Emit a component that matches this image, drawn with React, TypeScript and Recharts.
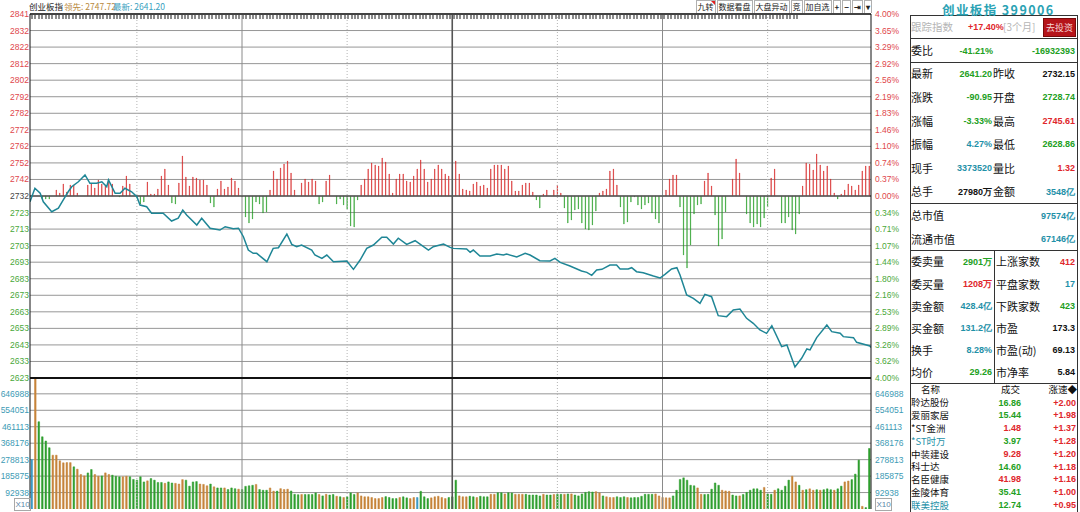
import type { CSSProperties, ReactNode } from 'react'
import {
  Bar,
  CartesianGrid,
  Cell,
  ComposedChart,
  Line,
  ReferenceLine,
  XAxis,
  YAxis,
} from 'recharts'

// ---- values ----
const PREV_CLOSE = 2732.15
const PCT_RANGE = 0.04
const STEPS = 11
const SESSION = 240

const PRICE_LABELS = [
  '2841', '2832', '2822', '2812', '2802', '2792', '2782', '2772', '2762', '2752', '2742',
  '2732',
  '2723', '2713', '2703', '2693', '2683', '2673', '2663', '2653', '2643', '2633', '2623',
]
const PCT_LABELS = [
  '4.00%', '3.65%', '3.29%', '2.92%', '2.56%', '2.19%', '1.83%', '1.46%', '1.10%', '0.74%', '0.37%',
  '0.00%',
  '0.34%', '0.71%', '1.07%', '1.44%', '1.80%', '2.16%', '2.53%', '2.89%', '3.26%', '3.62%', '4.00%',
]
const VOL_LABELS = ['646988', '554051', '461113', '368176', '278813', '185875', '92938']
const VOL_STEP = 92938
const VOL_MAX = 740000

// half-hour separators (minutes from open)
const GRID_MINUTES = [30.5, 60.5, 90.5, 120.5, 150.5, 180.5, 210.5]

// index line: [minute, price]
const PRICE_TRACE: [number, number][] = [
  [0, 2728.74], [1.4, 2736.8], [2.9, 2733.8], [3.8, 2728.7], [6.2, 2722.7], [8.1, 2724.8],
  [9.5, 2729.8], [10.9, 2734.7], [11.9, 2737.7], [13.8, 2740.7], [15.7, 2744.8], [17.1, 2739.8],
  [19.0, 2739.8], [20.5, 2740.7], [21.9, 2737.7], [22.4, 2741.8], [24.3, 2733.8], [25.7, 2733.8],
  [27.1, 2736.8], [29.0, 2734.7], [30.5, 2731.7], [31.4, 2726.7], [33.3, 2725.7], [34.7, 2721.8],
  [38.0, 2721.8], [40.4, 2717.1], [42.3, 2718.8], [43.6, 2723.7], [44.7, 2720.7], [47.6, 2714.7],
  [49.0, 2718.8], [51.4, 2712.8], [54.2, 2711.7], [55.7, 2713.7], [58.0, 2712.5], [59.5, 2712.8],
  [60.9, 2707.7], [62.3, 2699.7], [63.7, 2697.7], [64.7, 2697.7], [67.6, 2692.7], [69.4, 2700.7],
  [70.9, 2701.1], [73.3, 2709.3], [74.7, 2703.1], [76.1, 2701.7], [77.5, 2702.7], [80.4, 2699.7],
  [81.3, 2696.7], [83.3, 2694.7], [84.7, 2696.7], [86.6, 2692.7], [90.4, 2693.1], [92.3, 2688.1],
  [94.2, 2693.7], [96.1, 2700.7], [98.0, 2702.7], [100.4, 2707.4], [101.8, 2707.4], [103.7, 2703.3],
  [105.1, 2706.8], [107.5, 2703.1], [109.9, 2705.3], [113.7, 2699.7], [115.1, 2701.7], [118.0, 2703.3],
  [119.9, 2701.3], [120.8, 2700.7], [124.6, 2700.3], [125.6, 2698.3], [126.5, 2699.7], [128.4, 2696.1],
  [131.3, 2696.1], [133.2, 2697.3], [135.1, 2696.7], [136.0, 2697.3], [138.9, 2695.5], [141.3, 2697.7],
  [142.7, 2696.7], [145.5, 2693.3], [148.4, 2693.1], [149.8, 2694.7], [151.3, 2692.3], [154.1, 2690.1],
  [157.4, 2687.1], [158.9, 2686.3], [160.3, 2684.5], [161.7, 2687.7], [163.2, 2688.1], [165.5, 2690.7],
  [167.4, 2690.7], [168.4, 2688.3], [170.7, 2688.3], [171.7, 2689.1], [173.1, 2686.7], [175.0, 2686.1],
  [177.9, 2684.1], [179.8, 2682.9], [181.2, 2685.1], [183.1, 2688.3], [184.6, 2689.1], [185.5, 2684.7],
  [187.4, 2672.7], [189.3, 2670.7], [191.2, 2667.7], [192.6, 2673.1], [194.5, 2671.7], [196.4, 2660.3],
  [198.8, 2659.7], [200.7, 2663.7], [202.6, 2664.3], [204.5, 2658.7], [206.4, 2655.7], [208.3, 2651.7],
  [210.2, 2649.7], [211.7, 2654.3], [214.5, 2641.7], [216.0, 2642.7], [218.3, 2629.5], [220.2, 2634.7],
  [221.7, 2640.3], [222.6, 2639.7], [224.5, 2647.1], [227.4, 2654.7], [228.8, 2650.7], [231.2, 2649.7],
  [232.1, 2647.7], [235.0, 2647.1], [235.9, 2644.3], [239.7, 2642.1], [240, 2641.2],
]

// red/green strength bars around the previous close, one per minute
const STRENGTH = [
  0, 0, 0, -3, -3, -3, 0, 6, 3, 12,
  4, 11, 11, 3, 0, 0, 11, 12, 8, 16,
  12, 10, 14, 12, 0, -1, 10, 20, 12, 0,
  -2, -8, -6, 14, 2, 2, 7, 20, 27, 11,
  -7, -8, 13, 40, 19, 10, 19, 18, 16, 16,
  11, -7, -11, 7, 15, 7, 9, 18, 15, 8,
  -1, -21, -27, -23, -6, -8, -17, -16, 6, 25,
  17, 28, 32, 35, 23, 6, 0, 13, 17, 14,
  17, 15, -8, -6, 15, 21, 0, -8, -3, -9,
  -13, -30, -31, -4, 11, 17, 27, 33, 31, 30,
  38, 34, 22, 3, 17, 22, 22, 15, 14, 20,
  27, 36, 27, 14, 17, 27, 31, 27, 22, 20,
  0, 35, 22, 7, 6, 5, 12, 14, 10, 11,
  8, 27, 31, 31, 31, 27, 30, 15, 5, 5,
  11, 13, 13, 4, -4, -12, 2, 6, 0, 6,
  11, 3, -12, -27, -24, -14, -13, -27, -33, -34,
  -29, -15, 3, 5, 7, 25, 27, 11, -11, -28,
  -26, -6, -1, -9, -13, -9, -7, -17, -23, -27,
  -1, 6, 17, 21, 21, -11, -59, -72, -49, -18,
  -9, -8, 15, 23, 10, -19, -50, -43, -16, 0,
  17, 37, 23, 0, -18, -27, -31, -28, -31, -22,
  -11, 18, 27, 0, -27, -27, -21, -34, -38, -18,
  10, 33, 32, 26, 42, 31, 25, 30, 17, 3,
  -3, 2, 6, 12, 10, 6, 11, 25, 30, 30,
]

// volume per minute
const VOLUME = [
  280000, 740000, 493000, 408000, 384000, 346000, 304000, 304000, 272000, 261000,
  262000, 262000, 238000, 225000, 195000, 187000, 204000, 223000, 195000, 185000,
  187000, 204000, 195000, 191000, 185000, 182000, 182000, 185000, 182000, 167000,
  163000, 182000, 153000, 159000, 172000, 163000, 150000, 150000, 145000, 153000,
  147000, 145000, 141000, 166000, 163000, 129000, 153000, 155000, 141000, 139000,
  131000, 141000, 125000, 119000, 119000, 119000, 110000, 119000, 115000, 112000,
  110000, 128000, 131000, 134000, 139000, 110000, 106000, 106000, 119000, 101000,
  101000, 115000, 110000, 112000, 102000, 83000, 81000,
  82000, 82000, 82000, 82000, 91000, 82000, 74000, 83000, 79000, 82000,
  72000, 69000, 65000, 69000, 91000, 82000, 91000, 74000, 69000, 69000,
  65000, 59000, 59000, 65000, 70000, 65000, 59000, 59000, 65000, 69000,
  63000, 59000, 65000, 65000, 100000, 69000, 59000, 63000, 69000, 72000,
  65000, 59000, 65000, 69000, 163000, 74000, 69000, 69000, 72000, 69000,
  65000, 72000, 69000, 69000, 83000, 83000, 92000, 92000, 85000, 92000,
  91000, 83000, 83000, 83000, 83000, 79000, 79000, 79000, 74000, 83000,
  79000, 79000, 82000, 83000, 83000, 83000, 85000, 85000, 79000, 74000,
  85000, 94000, 98000, 96000, 98000, 91000,
  74000, 69000, 65000, 65000, 69000, 65000, 69000, 65000, 63000, 65000,
  65000, 72000, 83000, 83000, 83000, 85000, 74000, 65000, 63000, 63000,
  74000, 106000, 167000, 176000, 163000, 134000, 131000, 119000, 83000, 82000,
  83000, 112000, 147000, 134000, 106000, 102000, 100000, 79000, 74000, 74000,
  82000, 94000, 106000, 114000, 114000, 106000, 122000, 85000, 83000, 106000,
  114000, 106000, 129000, 163000, 185000, 153000, 134000, 106000, 109000, 114000,
  106000, 109000, 106000, 109000, 114000, 109000, 106000, 114000, 129000, 153000,
  158000, 166000, 197000, 276000, 15000, 8000, 342000,
]
// g = green, o = orange, b = blue volume bar
const VOLUME_SIDE = [
  'boggggoooo', 'oogoooggoo', 'googggoogg', 'gggoggggog', 'goooggggoo', 'ogoggogggo',
  'ggggogggoo', 'goooggg', 'oggggogogg', 'ogogggoooo', 'ooooggggog', 'goobgggooo',
  'oogggooogg', 'ogggooggog', 'gooogggggo', 'ggoggogogg', 'ggggoo', 'gooogggogg',
  'gggggooooo', 'gggggggoog', 'ggggoooggo', 'ggggggoggo', 'ggggoogogo', 'ogogggoggo', 'ogggogg',
].join('')

const HEADER_NAME = '创业板指'
const HEADER_LEAD = '领先: 2747.72'
const HEADER_LAST = '最新: 2641.20'
const TOOLBAR = ['九转', '数据看盘', '大盘异动', '竞', '加自选', '+', '−', '⇥', '▾']

const TITLE = '创业板指 399006'
const QUOTE_L = ['最新', '涨跌', '涨幅', '振幅', '现手', '总手']
const QUOTE_LV = ['2641.20', '-90.95', '-3.33%', '4.27%', '3373520', '27980万']
const QUOTE_LT = ['d', 'd', 'd', 'i', 'i', 'n']
const QUOTE_R = ['昨收', '开盘', '最高', '最低', '量比', '金额']
const QUOTE_RV = ['2732.15', '2728.74', '2745.61', '2628.86', '1.32', '3548亿']
const QUOTE_RT = ['n', 'd', 'u', 'd', 'u', 'i']
const CAP_L = ['总市值', '流通市值']
const CAP_V = ['97574亿', '67146亿']
const BOOK_L = ['委卖量', '委买量', '卖金额', '买金额', '换手', '均价']
const BOOK_LV = ['2901万', '1208万', '428.4亿', '131.2亿', '8.28%', '29.26']
const BOOK_LT = ['d', 'u', 'i', 'i', 'i', 'd']
const BOOK_R = ['上涨家数', '平盘家数', '下跌家数', '市盈', '市盈(动)', '市净率']
const BOOK_RV = ['412', '17', '423', '173.3', '69.13', '5.84']
const BOOK_RT = ['u', 'i', 'd', 'n', 'n', 'n']
const STOCK_NAMES = ['聆达股份', '爱丽家居', '*ST金洲', '*ST时万', '中装建设', '科士达', '名臣健康', '金陵体育', '联美控股']
const STOCK_NAME_T = ['n', 'n', 'n', 'i', 'n', 'n', 'n', 'n', 'i']
const STOCK_PRICES = ['16.86', '15.44', '1.48', '3.97', '9.28', '14.60', '41.98', '35.41', '12.74']
const STOCK_PRICE_T = ['d', 'd', 'u', 'd', 'u', 'd', 'u', 'd', 'd']
const STOCK_SPEED = ['+2.00', '+1.98', '+1.37', '+1.28', '+1.20', '+1.18', '+1.16', '+1.00', '+0.95']

// ---- styling ----
const CJK = '"Noto Sans CJK SC", "Noto Sans", sans-serif'
const NUM = '"Liberation Sans", Arial, sans-serif'
const RED = '#d41e1e'
const GREEN = '#1e9a1e'
const TEAL = '#1f8696'
const LABEL_RED = '#e0474c'
const LABEL_GREEN = '#4aa83a'
const VOL_LABEL = '#3d9bb5'
const TONE: Record<string, string> = { u: '#e0262b', d: '#22a022', n: '#111', i: '#1f91a8' }
const VOL_FILL: Record<string, string> = { g: '#2e9e2e', o: '#c6843a', b: '#3d9ac5' }

const STEP = PCT_RANGE / STEPS
const LOW = PREV_CLOSE * (1 - PCT_RANGE)
const HIGH = PREV_CLOSE * (1 + PCT_RANGE)
const LEVELS = Array.from({ length: STEPS * 2 + 1 }, (_, i) => PREV_CLOSE * (1 + (i - STEPS) * STEP))
const VOL_TICKS = VOL_LABELS.map((_, i) => VOL_STEP * (VOL_LABELS.length - i))

const rows = STRENGTH.map((s, k) => ({ t: k + 0.5, s, v: VOLUME[k], side: VOLUME_SIDE[k] }))
const pricePoints = PRICE_TRACE.map(([t, p]) => ({ t, p }))

const levelOf = (v: number) => Math.round((v / PREV_CLOSE - 1) / STEP)

function priceTick(props: any) {
  const lvl = levelOf(props.payload.value)
  const fill = lvl > 0 ? LABEL_RED : lvl < 0 ? LABEL_GREEN : '#444'
  return (
    <text x={props.x} y={props.y} dy={3} textAnchor="end" fontSize={8.5} fontFamily={NUM} fill={fill}>
      {PRICE_LABELS[STEPS - lvl]}
    </text>
  )
}

function pctTick(props: any) {
  const lvl = levelOf(props.payload.value)
  const fill = lvl >= 0 ? LABEL_RED : LABEL_GREEN
  return (
    <text x={props.x} y={props.y} dy={3} textAnchor="start" fontSize={8.5} fontFamily={NUM} fill={fill}>
      {PCT_LABELS[STEPS - lvl]}
    </text>
  )
}

function volTick(anchor: 'start' | 'end') {
  return (props: any) => {
    const i = Math.round(props.payload.value / VOL_STEP)
    return (
      <text x={props.x} y={props.y} dy={3} textAnchor={anchor} fontSize={8.5} fontFamily={NUM} fill={VOL_LABEL}>
        {VOL_LABELS[VOL_LABELS.length - i]}
      </text>
    )
  }
}

function minuteLine(m: number, i: number, yAxisId: string) {
  const midday = i === 3
  const dotted = i % 2 === 0
  return (
    <ReferenceLine
      key={m}
      x={m}
      yAxisId={yAxisId}
      stroke={midday ? '#555' : dotted ? '#b4b4b4' : '#8a8a8a'}
      strokeWidth={midday ? 1.6 : 1}
      strokeDasharray={dotted ? '1 2' : undefined}
    />
  )
}

function Txt({
  x, y, children, align = 'left', size = 10, color = '#111', weight = 400, font = CJK, style,
}: {
  x: number; y: number; children: ReactNode; align?: 'left' | 'right'; size?: number
  color?: string; weight?: number; font?: string; style?: CSSProperties
}) {
  const s: CSSProperties = {
    position: 'absolute',
    top: y - size * 0.6,
    height: size * 1.2,
    lineHeight: `${size * 1.2}px`,
    fontSize: size,
    color,
    fontWeight: weight,
    fontFamily: font,
    whiteSpace: 'nowrap',
    ...style,
  }
  if (align === 'right') s.right = 1080 - x
  else s.left = x
  return <div style={s}>{children}</div>
}

const hline = (x1: number, x2: number, y: number, color = '#333') => (
  <div style={{ position: 'absolute', left: x1, top: y, width: x2 - x1, height: 1, background: color }} />
)
const vline = (x: number, y1: number, y2: number, color = '#333') => (
  <div style={{ position: 'absolute', left: x, top: y1, width: 1, height: y2 - y1, background: color }} />
)

function PriceChart() {
  return (
    <ComposedChart width={906} height={392} data={rows} margin={{ top: 14, right: 0, bottom: 14, left: 0 }}>
      <XAxis dataKey="t" type="number" domain={[0, SESSION]} hide allowDataOverflow />
      <YAxis
        yAxisId="p"
        domain={[LOW, HIGH]}
        ticks={LEVELS}
        interval={0}
        width={30}
        tickLine={false}
        tickSize={0}
        tickMargin={1}
        axisLine={{ stroke: '#111' }}
        tick={priceTick}
        allowDataOverflow
      />
      <YAxis
        yAxisId="pr"
        orientation="right"
        domain={[LOW, HIGH]}
        ticks={LEVELS}
        interval={0}
        width={35}
        tickLine={false}
        tickSize={0}
        tickMargin={4}
        axisLine={{ stroke: '#111' }}
        tick={pctTick}
        allowDataOverflow
      />
      <YAxis yAxisId="s" hide domain={[-182, 182]} allowDataOverflow />
      <CartesianGrid yAxisId="p" vertical={false} stroke="#969696" horizontalValues={LEVELS} />
      {GRID_MINUTES.map((m, i) => minuteLine(m, i, 'p'))}
      <ReferenceLine y={HIGH} yAxisId="p" stroke="#444" strokeWidth={2} />
      <ReferenceLine y={PREV_CLOSE} yAxisId="p" stroke="#555" strokeWidth={1.5} />
      <ReferenceLine y={LOW} yAxisId="p" stroke="#111" strokeWidth={2} />
      <Bar yAxisId="s" dataKey="s" barSize={1.6} isAnimationActive={false}>
        {rows.map((r, i) => (
          <Cell key={i} fill={r.s >= 0 ? RED : GREEN} stroke={r.s >= 0 ? RED : GREEN} strokeWidth={0.5} />
        ))}
      </Bar>
      <Line
        yAxisId="p"
        data={pricePoints}
        dataKey="p"
        type="linear"
        stroke={TEAL}
        strokeWidth={1.5}
        dot={false}
        isAnimationActive={false}
      />
    </ComposedChart>
  )
}

function VolumeChart() {
  return (
    <ComposedChart width={906} height={134} data={rows} margin={{ top: 0, right: 0, bottom: 3, left: 0 }}>
      <XAxis dataKey="t" type="number" domain={[0, SESSION]} hide allowDataOverflow />
      <YAxis
        yAxisId="v"
        domain={[0, VOL_MAX]}
        ticks={VOL_TICKS}
        interval={0}
        width={30}
        tickLine={false}
        tickSize={0}
        tickMargin={1}
        axisLine={{ stroke: '#111' }}
        tick={volTick('end')}
        allowDataOverflow
      />
      <YAxis
        yAxisId="vr"
        orientation="right"
        domain={[0, VOL_MAX]}
        ticks={VOL_TICKS}
        interval={0}
        width={35}
        tickLine={false}
        tickSize={0}
        tickMargin={4}
        axisLine={{ stroke: '#111' }}
        tick={volTick('start')}
        allowDataOverflow
      />
      <CartesianGrid yAxisId="v" vertical={false} stroke="#969696" horizontalValues={VOL_TICKS} />
      {GRID_MINUTES.map((m, i) => minuteLine(m, i, 'v'))}
      <Bar yAxisId="v" dataKey="v" barSize={1.6} isAnimationActive={false}>
        {rows.map((r, i) => (
          <Cell key={i} fill={VOL_FILL[r.side] ?? VOL_FILL.g} stroke={VOL_FILL[r.side] ?? VOL_FILL.g} strokeWidth={0.5} />
        ))}
      </Bar>
    </ComposedChart>
  )
}

function Panel() {
  const quoteY = (i: number) => 74 + i * 23.6
  const bookY = (i: number) => 262 + i * 22.1
  const stockY = (i: number) => 403 + i * 12.8
  return (
    <>
      {vline(910, 15, 512)}
      {vline(1077, 15, 512)}
      {hline(910, 1078, 15)}
      <Txt x={942} y={9} size={12.5} weight={700} color="#2aa2b4" style={{ letterSpacing: 1.4 }}>
        {TITLE}
      </Txt>
      <Txt x={911} y={27} size={10.5} color="#b5b5b5">跟踪指数</Txt>
      <Txt x={968} y={27} size={9} weight={700} color={TONE.u} font={NUM}>+17.40%</Txt>
      <Txt x={1003} y={27} size={10} color="#b5b5b5">[3个月]</Txt>
      <div
        style={{
          position: 'absolute', left: 1043, top: 18, width: 31, height: 17, background: '#b5141a',
          border: '1px solid #7a0a0a', color: '#f6d6d6', fontSize: 9, lineHeight: '17px', textAlign: 'center',
          fontFamily: CJK,
        }}
      >
        去投资
      </div>
      {hline(910, 1077, 38)}
      <Txt x={911} y={51} size={11}>委比</Txt>
      <Txt x={993} y={51} align="right" size={9} weight={700} color={TONE.d} font={NUM}>-41.21%</Txt>
      <Txt x={1075} y={51} align="right" size={9} weight={700} color={TONE.d} font={NUM}>-16932393</Txt>
      {hline(910, 1077, 62)}
      {QUOTE_L.map((l, i) => (
        <div key={l}>
          <Txt x={911} y={quoteY(i)} size={11}>{l}</Txt>
          <Txt x={992} y={quoteY(i)} align="right" size={9} weight={700} color={TONE[QUOTE_LT[i]]} font={NUM}>{QUOTE_LV[i]}</Txt>
          <Txt x={993} y={quoteY(i)} size={11}>{QUOTE_R[i]}</Txt>
          <Txt x={1075} y={quoteY(i)} align="right" size={9} weight={700} color={TONE[QUOTE_RT[i]]} font={NUM}>{QUOTE_RV[i]}</Txt>
        </div>
      ))}
      {hline(910, 1077, 203)}
      {CAP_L.map((l, i) => (
        <div key={l}>
          <Txt x={911} y={216 + i * 23.5} size={11}>{l}</Txt>
          <Txt x={1075} y={216 + i * 23.5} align="right" size={9} weight={700} color={TONE.i} font={NUM}>{CAP_V[i]}</Txt>
        </div>
      ))}
      {hline(910, 1077, 250)}
      {vline(994, 250, 383)}
      {BOOK_L.map((l, i) => (
        <div key={l}>
          <Txt x={911} y={bookY(i)} size={11}>{l}</Txt>
          <Txt x={992} y={bookY(i)} align="right" size={9} weight={700} color={TONE[BOOK_LT[i]]} font={NUM}>{BOOK_LV[i]}</Txt>
          <Txt x={996} y={bookY(i)} size={11}>{BOOK_R[i]}</Txt>
          <Txt x={1075} y={bookY(i)} align="right" size={9} weight={700} color={TONE[BOOK_RT[i]]} font={NUM}>{BOOK_RV[i]}</Txt>
        </div>
      ))}
      {hline(910, 1077, 383)}
      <Txt x={921} y={390} size={9.5}>名称</Txt>
      <Txt x={1020} y={390} align="right" size={9.5}>成交</Txt>
      <Txt x={1077} y={390} align="right" size={9.5}>涨速◆</Txt>
      {STOCK_NAMES.map((n, i) => (
        <div key={n}>
          <Txt x={911} y={stockY(i)} size={9.5} color={TONE[STOCK_NAME_T[i]]}>{n}</Txt>
          <Txt x={1021} y={stockY(i)} align="right" size={9} weight={700} color={TONE[STOCK_PRICE_T[i]]} font={NUM}>{STOCK_PRICES[i]}</Txt>
          <Txt x={1076} y={stockY(i)} align="right" size={9} weight={700} color={TONE.u} font={NUM}>{STOCK_SPEED[i]}</Txt>
        </div>
      ))}
    </>
  )
}

export default function App() {
  return (
    <div
      style={{
        position: 'absolute', left: 0, top: 0, width: 1080, height: 512, overflow: 'hidden',
        background: '#fff', fontFamily: CJK,
      }}
    >
      <div style={{ position: 'absolute', left: 0, top: 378 }}>
        <VolumeChart />
      </div>
      <div style={{ position: 'absolute', left: 0, top: 0 }}>
        <PriceChart />
      </div>
      {/* header line over the chart */}
      <Txt x={29} y={6.5} size={8.5} color="#222">{HEADER_NAME}</Txt>
      <Txt x={64} y={6.5} size={8.5} color="#b8893e">{HEADER_LEAD}</Txt>
      <Txt x={113} y={6.5} size={8.5} color="#3a9fc0">{HEADER_LAST}</Txt>
      <div
        style={{
          position: 'absolute', left: 31, top: 15, width: 767, height: 3.5,
          background: 'repeating-linear-gradient(90deg, #8c8c8c 0 2px, transparent 2px 3.4px)',
        }}
      />
      <div style={{ position: 'absolute', right: 1080 - 872, top: 0, height: 13, display: 'flex', gap: 1 }}>
        {TOOLBAR.map((b, i) => (
          <div
            key={b}
            style={{
              position: 'relative', border: '1px solid #b0b0b0', borderBottom: 'none', padding: '0 1px',
              fontSize: 8, lineHeight: '12px', color: '#222', fontFamily: CJK, background: '#fff',
              fontWeight: i >= 5 ? 700 : 400,
            }}
          >
            {b}
            {i === 0 && (
              <div
                style={{
                  position: 'absolute', right: 0, top: 0, width: 0, height: 0,
                  borderLeft: '4px solid transparent', borderTop: '4px solid #e02020',
                }}
              />
            )}
          </div>
        ))}
      </div>
      {[14, 875].map((x) => (
        <div
          key={x}
          style={{
            position: 'absolute', left: x, top: 498, width: 15, height: 11, border: '1px solid #a8a8a8',
            fontSize: 8, lineHeight: '11px', color: '#5a86a8', fontFamily: NUM, textAlign: 'center',
          }}
        >
          X10
        </div>
      ))}
      <Panel />
    </div>
  )
}
